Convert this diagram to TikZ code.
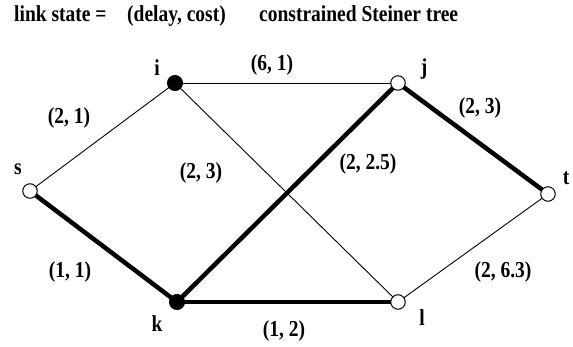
\documentclass[tikz,border=0pt]{standalone}
\usepackage{fontspec}
\usepackage{graphicx}
\setmainfont{Liberation Serif}
\newcommand{\tallt}[1]{\scalebox{1}[1.17]{#1}}
\begin{document}
\begin{tikzpicture}[x=1pt,y=-1pt,
  vopen/.style={circle,draw,line width=1pt,fill=white,minimum size=14.5pt,inner sep=0pt},
  vfull/.style={circle,draw,line width=1pt,fill=black,minimum size=15pt,inner sep=0pt},
  thin edge/.style={line width=0.9pt},
  thick edge/.style={line width=4.5pt},
  lbl/.style={font=\fontsize{19.5}{22}\selectfont\bfseries,inner sep=0pt}]
\useasboundingbox (0,0) rectangle (573,346);
% title
\node[lbl,anchor=base west] (t1) at (14,21.5) {\tallt{link state =}};
\node[lbl,anchor=base west] (t2) at (127,21.5) {\tallt{(delay, cost)}};
\node[lbl,anchor=base west] (t3) at (259,21.5) {\tallt{constrained Steiner tree}};
% vertices (coordinates)
\coordinate (pi) at (175,83);
\coordinate (pj) at (398,83);
\coordinate (ps) at (30,191);
\coordinate (pt) at (548,194);
\coordinate (pk) at (177,302);
\coordinate (pl) at (398,302);
% edges
\draw[thin edge] (ps) -- (pi);
\draw[thin edge] (pi) -- (pj);
\draw[thin edge] (pi) -- (pl);
\draw[thin edge] (pt) -- (pl);
\draw[thick edge] (ps) -- (pk);
\draw[thick edge] (pk) -- (pj);
\draw[thick edge] (pk) -- (pl);
\draw[thick edge] (pj) -- (pt);
% vertex markers
\node[vfull] (i) at (pi) {};
\node[vopen] (j) at (pj) {};
\node[vopen] (s) at (ps) {};
\node[vopen] (t) at (pt) {};
\node[vfull] (k) at (pk) {};
\node[vopen] (l) at (pl) {};
% vertex names
\node[lbl] (ni) at (157,68) {\tallt{i}};
\node[lbl] (nj) at (424,69) {\tallt{j}};
\node[lbl] (ns) at (18,169) {\tallt{s}};
\node[lbl] (nt) at (566,178) {\tallt{t}};
\node[lbl] (nk) at (157,324) {\tallt{k}};
\node[lbl] (nl) at (422,318) {\tallt{l}};
% edge labels
\node[lbl] (e1) at (272,65) {\tallt{(6, 1)}};
\node[lbl] (e2) at (69,118) {\tallt{(2, 1)}};
\node[lbl] (e3) at (201,173) {\tallt{(2, 3)}};
\node[lbl] (e4) at (70,272) {\tallt{(1, 1)}};
\node[lbl] (e5) at (284,331) {\tallt{(1, 2)}};
\node[lbl] (e6) at (480,108) {\tallt{(2, 3)}};
\node[lbl] (e7) at (368,164) {\tallt{(2, 2.5)}};
\node[lbl] (e8) at (503,272) {\tallt{(2, 6.3)}};
\end{tikzpicture}
\end{document}
